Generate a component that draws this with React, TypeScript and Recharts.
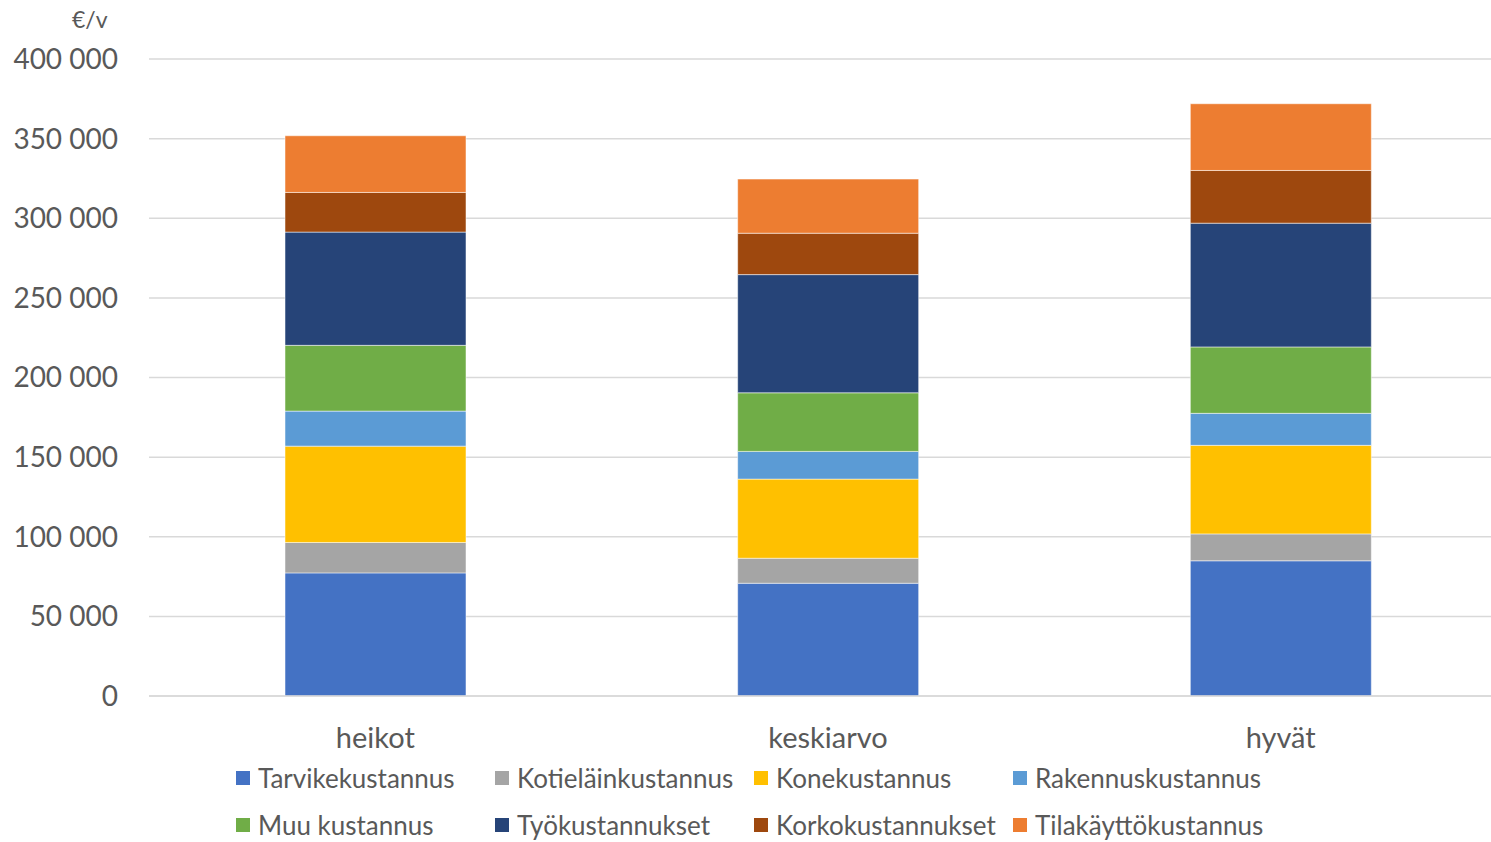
import React from "react";
import { BarChart, Bar, XAxis, YAxis, CartesianGrid } from "recharts";

const categories = ["heikot", "keskiarvo", "hyvät"];

const tarvike = [77300, 70800, 84900];
const kotielain = [19100, 15700, 16900];
const kone = [60500, 49700, 55600];
const rakennus = [22000, 17400, 20100];
const muu = [41300, 36800, 41700];
const tyo = [71100, 74200, 77700];
const korko = [24900, 26000, 33100];
const tila = [35600, 34000, 41900];

const yTicks = [0, 50000, 100000, 150000, 200000, 250000, 300000, 350000, 400000];

const SERIES = [
  { key: "tarvike", name: "Tarvikekustannus", values: tarvike, color: "#4472C4" },
  { key: "kotielain", name: "Kotieläinkustannus", values: kotielain, color: "#A5A5A5" },
  { key: "kone", name: "Konekustannus", values: kone, color: "#FFC000" },
  { key: "rakennus", name: "Rakennuskustannus", values: rakennus, color: "#5B9BD5" },
  { key: "muu", name: "Muu kustannus", values: muu, color: "#70AD47" },
  { key: "tyo", name: "Työkustannukset", values: tyo, color: "#264478" },
  { key: "korko", name: "Korkokustannukset", values: korko, color: "#9E480E" },
  { key: "tila", name: "Tilakäyttökustannus", values: tila, color: "#ED7D31" },
];

const data = categories.map((cat, i) => {
  const row: Record<string, any> = { name: cat };
  SERIES.forEach((s) => (row[s.key] = s.values[i]));
  return row;
});

const FONT = "Lato, 'Open Sans', sans-serif";
const TEXT = "#595959";

const fmt = (v: number) => String(v).replace(/\B(?=(\d{3})+(?!\d))/g, " ");

const LEGEND_COLS = [236, 495, 754, 1013];
const LEGEND_ROWS = [778, 825];

export default function App() {
  return (
    <div
      style={{
        position: "absolute",
        left: 0,
        top: 0,
        width: 1491,
        height: 842,
        overflow: "hidden",
        background: "#fff",
        fontFamily: FONT,
      }}
    >
      <div style={{ position: "absolute", left: 72, top: 5, fontSize: 23, color: TEXT }}>€/v</div>

      <BarChart
        width={1521}
        height={842}
        data={data}
        margin={{ top: 59, right: 14, left: 0, bottom: 86 }}
        barSize={181}
      >
        <CartesianGrid vertical={false} stroke="#d9d9d9" strokeWidth={1.5} />
        <XAxis
          dataKey="name"
          axisLine={{ stroke: "#d9d9d9", strokeWidth: 1.5 }}
          tickLine={false}
          tickMargin={25}
          height={60}
          tick={{ fill: TEXT, fontSize: 29, fontFamily: FONT }}
        />
        <YAxis
          width={149}
          domain={[0, 400000]}
          ticks={yTicks}
          interval={0}
          axisLine={false}
          tickLine={false}
          tickMargin={25}
          tickFormatter={fmt}
          tick={{ fill: TEXT, fontSize: 28, fontFamily: FONT }}
        />
        {SERIES.map((s) => (
          <Bar
            key={s.key}
            dataKey={s.key}
            name={s.name}
            stackId="a"
            fill={s.color}
            stroke="rgba(255,255,255,0.5)"
            strokeWidth={1}
            isAnimationActive={false}
          />
        ))}
      </BarChart>

      {SERIES.map((s, i) => {
        const x = LEGEND_COLS[i % 4];
        const y = LEGEND_ROWS[Math.floor(i / 4)];
        return (
          <div
            key={s.key}
            style={{
              position: "absolute",
              left: x,
              top: y - 13,
              height: 26,
              lineHeight: "26px",
              display: "flex",
              alignItems: "center",
              fontSize: 26,
              color: TEXT,
              whiteSpace: "nowrap",
            }}
          >
            <span style={{ width: 14, height: 14, background: s.color, display: "inline-block", marginRight: 8 }} />
            {s.name}
          </div>
        );
      })}
    </div>
  );
}
